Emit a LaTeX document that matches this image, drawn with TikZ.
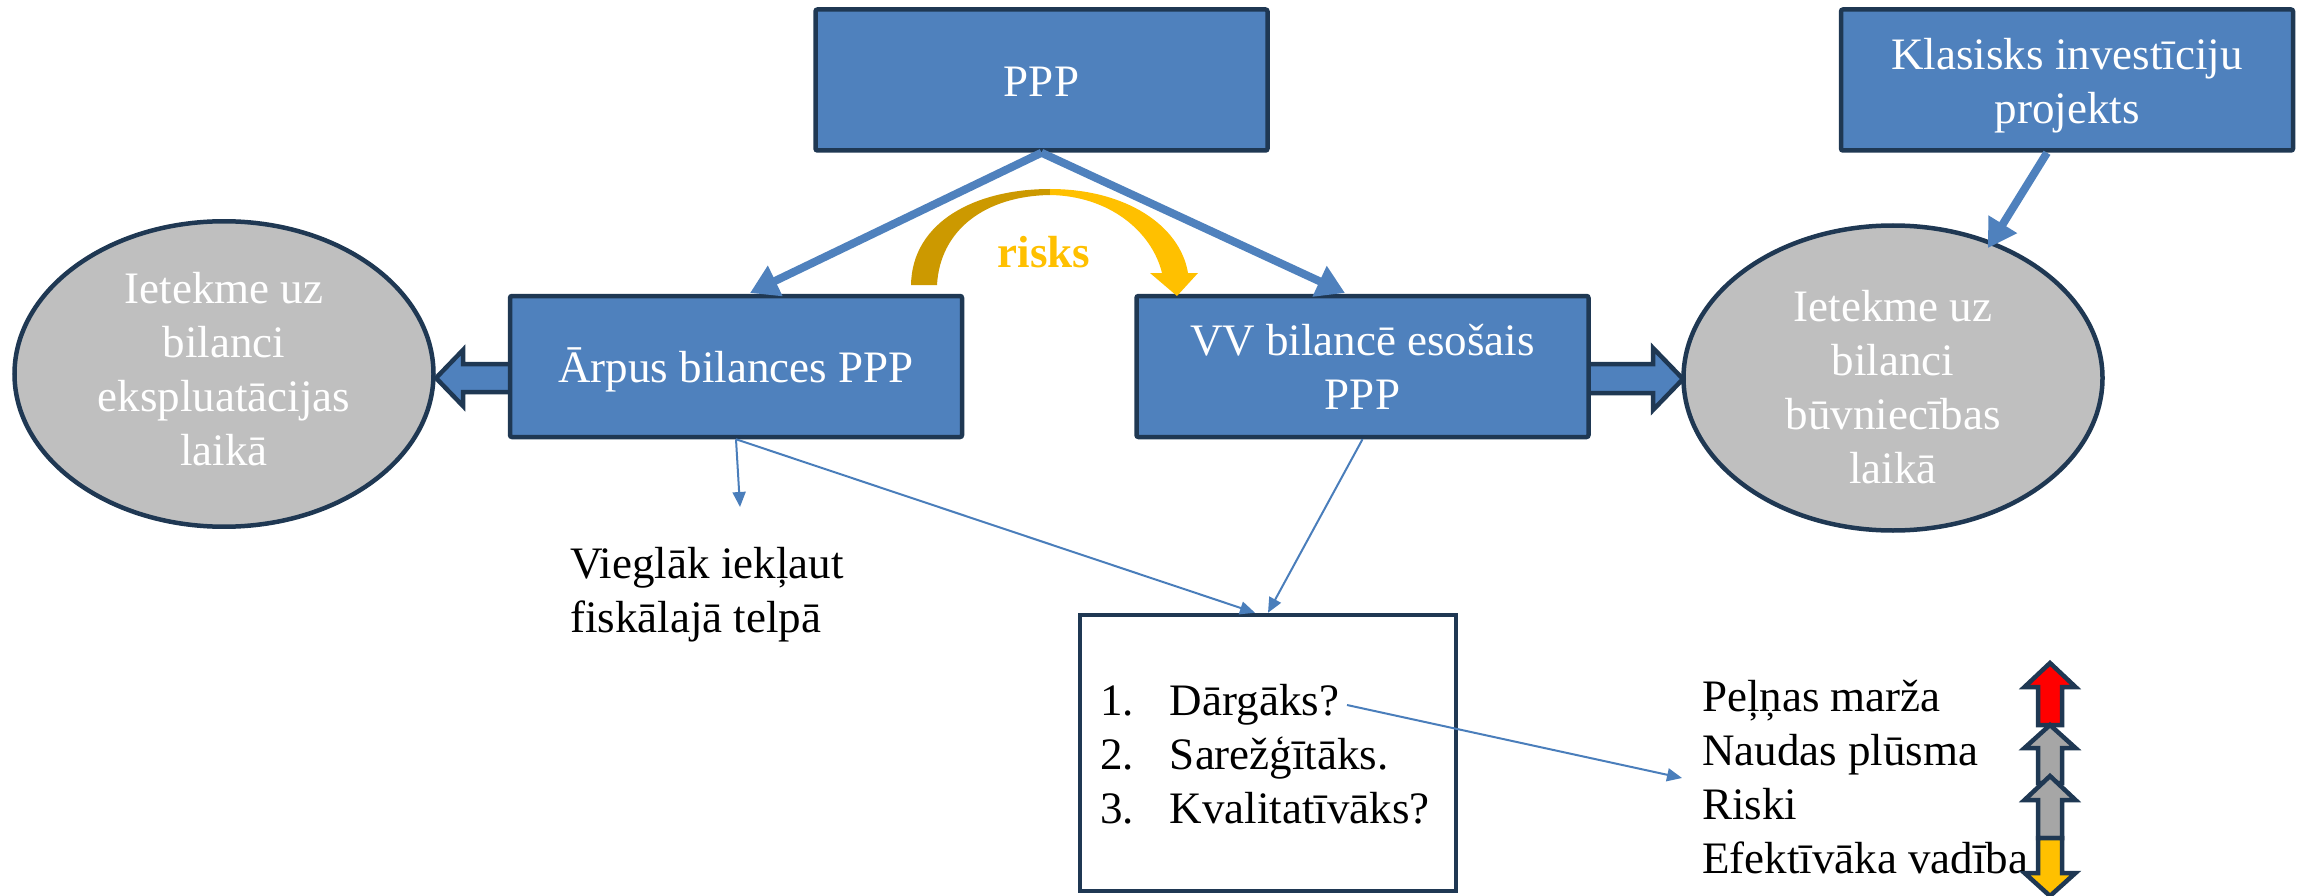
\documentclass[tikz,border=0pt]{standalone}
\usepackage{fontspec}
\setmainfont{Liberation Serif}
\usetikzlibrary{arrows.meta,calc,shapes.geometric}
\definecolor{boxblue}{HTML}{4F81BD}
\definecolor{navy}{HTML}{1F3853}
\definecolor{linkblue}{HTML}{4A7EBB}
\definecolor{ellgray}{HTML}{BFBFBF}
\definecolor{golddark}{HTML}{CC9900}
\definecolor{goldlight}{HTML}{FFC000}
\definecolor{arrred}{HTML}{FF0000}
\definecolor{arrgray}{HTML}{A6A6A6}
\newcommand{\tstrut}{\rule{0pt}{49pt}}
\begin{document}
\begin{tikzpicture}[x=1pt,y=-1pt,
  every node/.style={font=\fontsize{45}{54}\selectfont},
  bluebox/.style={draw=navy, line width=4.5pt, fill=boxblue, text=white,
    minimum width=452pt, minimum height=141pt, align=center, inner sep=0pt, rounded corners=2pt},
  ell/.style={ellipse, draw=navy, line width=4.5pt, fill=ellgray, text=white,
    align=center, inner sep=0pt, minimum width=419pt},
  thickarrow/.style={draw=boxblue, line width=8pt, -{Triangle[width=32pt,length=28pt]}},
  thinlink/.style={draw=linkblue, line width=2pt, -{Triangle[width=13pt,length=15pt]}},
  blockarrow/.style={fill=boxblue, draw=navy, line width=4.5pt, line join=miter},
  vblock/.style={draw=navy, line width=4.5pt, line join=miter},
]
\useasboundingbox (0,0) rectangle (2305,896);

% ellipses
\node[ell, minimum height=304pt] (eL) at (224,374)
  {\strut Ietekme uz\\\strut bilanci\\\strut ekspluatācijas\\\strut laikā};
\node[ell, minimum height=305pt] (eR) at (1893,378)
  {\tstrut Ietekme uz\\\strut bilanci\\\strut būvniecības\\laikā};

% block arrows
\filldraw[blockarrow] (509,364) -- (463,364) -- (463,350) -- (436,378) -- (463,406) -- (463,392) -- (509,392);
\filldraw[blockarrow] (1589,364) -- (1653,364) -- (1653,348) -- (1683,379) -- (1653,410) -- (1653,393) -- (1589,393);

% boxes
\node[bluebox] (ppp) at (1041.5,80) {\tstrut\strut PPP};
\node[bluebox] (klas) at (2067,80) {\tstrut Klasisks investīciju\\\strut projekts};
\node[bluebox] (arpus) at (736,366.5) {\tstrut\strut Ārpus bilances PPP};
\node[bluebox] (vv) at (1362.5,366.5) {\tstrut VV bilancē esošais\\\strut PPP};

% thick arrows
\coordinate (t1) at (750,293);
\coordinate (t2) at (1345,293);
\coordinate (kt) at (1988,248);
\draw[thickarrow] (ppp.south) -- (t1);
\draw[thickarrow] (ppp.south) -- (t2);
\draw[thickarrow] ([xshift=-20pt]klas.south) -- (kt);

% risks curved arrow
\fill[golddark] (911,285) .. controls (912,222) and (975,189) .. (1050,189)
  -- (1050,195) .. controls (985,196) and (940,230) .. (937,285) -- cycle;
\fill[goldlight] (1050,189) .. controls (1125,189) and (1180,225) .. (1188,273)
  -- (1198,273) -- (1177,296) -- (1150,273) -- (1162,273)
  .. controls (1152,232) and (1110,196) .. (1050,195) -- cycle;
\node[anchor=base, text=goldlight, font=\fontsize{45}{54}\selectfont\bfseries, inner sep=0pt] (risks) at (1044,267) {risks};

% list box
\node[draw=navy, line width=4.5pt, fill=white, minimum width=376pt, minimum height=276pt,
  text width=336pt, align=left, inner xsep=20pt, inner ysep=0pt] (list) at (1268,753)
  {\rule{0pt}{49pt}\makebox[70pt][l]{1.}Dārgāks?\\\strut\makebox[70pt][l]{2.}Sarežģītāks.\\\strut\makebox[70pt][l]{3.}Kvalitatīvāks?};

% texts
\node[anchor=west, align=left, inner sep=0pt] (viegl) at (570,595) {\strut Vieglāk iekļaut\\\strut fiskālajā telpā};
\node[anchor=west, align=left, inner sep=0pt] (rlist) at (1702,782)
  {\strut Peļņas marža\\\strut Naudas plūsma\\\strut Riski\\\strut Efektīvāka vadība};

% thin links
\coordinate (vt) at (740,507);
\coordinate (dend) at (1347,705);
\coordinate (rt) at (1682,778);
\draw[thinlink] (arpus.south) -- (vt);
\draw[thinlink] (arpus.south) -- ([xshift=-13pt]list.north);
\draw[thinlink] (vv.south) -- (list.north);
\draw[thinlink] (dend) -- (rt);

% vertical block arrows
\filldraw[vblock, fill=arrred] (2038,725) -- (2038,687) -- (2024.5,687) -- (2050,663) -- (2075.5,687) -- (2062,687) -- (2062,725) -- cycle;
\filldraw[vblock, fill=arrgray] (2038,783) -- (2038,748) -- (2024.5,748) -- (2050,725) -- (2075.5,748) -- (2062,748) -- (2062,783) -- cycle;
\filldraw[vblock, fill=arrgray] (2038,838) -- (2038,800) -- (2024.5,800) -- (2050,776) -- (2075.5,800) -- (2062,800) -- (2062,838) -- cycle;
\filldraw[vblock, fill=goldlight] (2038,838) -- (2038,873) -- (2024.5,873) -- (2050,896) -- (2075.5,873) -- (2062,873) -- (2062,838) -- cycle;
\end{tikzpicture}
\end{document}
